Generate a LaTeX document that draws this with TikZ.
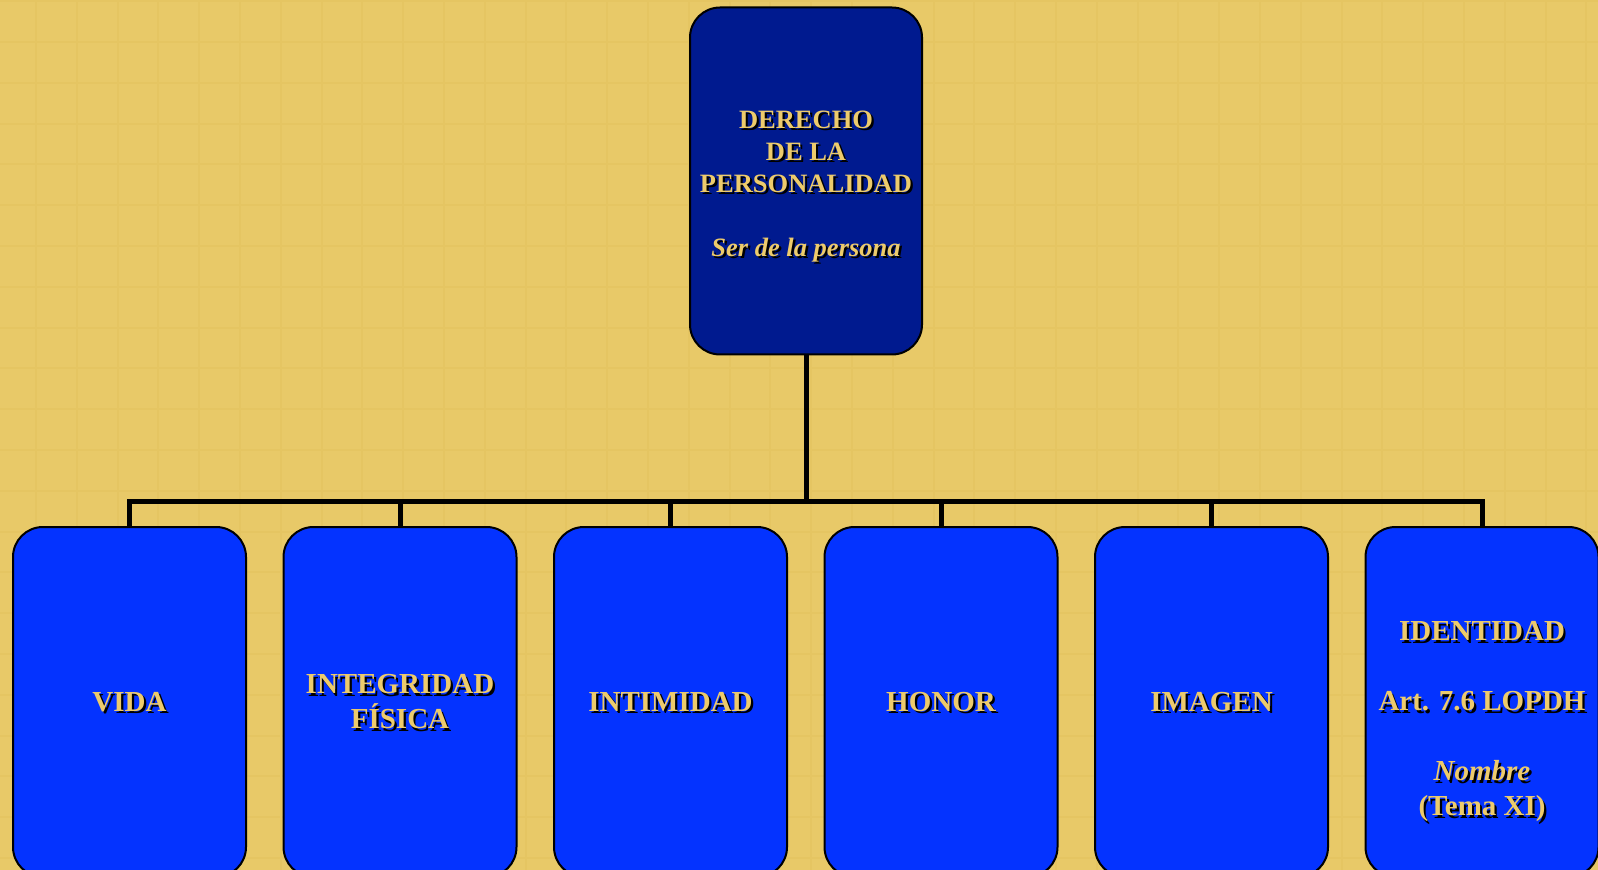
\documentclass[tikz,border=0pt]{standalone}
\usepackage{fontspec}
\setmainfont{Liberation Serif}
\usepackage{xcolor}
\usepackage{tikz}

\definecolor{sand}{HTML}{E8C968}
\definecolor{sandgrid}{HTML}{E5C562}
\definecolor{navy}{HTML}{001A8F}
\definecolor{royal}{HTML}{0433FF}
\definecolor{goldtext}{HTML}{EDCB6C}

\newcommand{\topfont}{\fontsize{13.25}{16}\selectfont\bfseries}
\newcommand{\cardfont}{\fontsize{14.5}{17.5}\selectfont\bfseries}
\newcommand{\roottext}{\mbox{}\\[-2pt]DERECHO\\DE LA\\PERSONALIDAD\\[16pt]\textit{Ser de la persona}}
\newcommand{\identtext}{\mbox{}\\[12pt]IDENTIDAD\\[17.5pt]Art. 7.6 LOPDH\\[17.5pt]\textit{Nombre}\\(Tema XI)}
\newcommand{\card}[3]{\node[cardbox, shadowed={\cardfont}{#3}] (#1) at (#2,702) {#3};}

\tikzset{
	box/.style={draw=black, line width=1pt, rounded corners=15pt, inner sep=0pt, text=goldtext, align=center},
	rootbox/.style={box, fill=navy, minimum width=116pt, minimum height=173.5pt, font=\topfont},
	cardbox/.style={box, fill=royal, minimum width=116.5pt, minimum height=175pt, font=\cardfont},
	shadowed/.style 2 args={path picture={\node[text=black, align=center, font=#1] at ([shift={(1.1pt,-1.1pt)}]path picture bounding box.center) {#2};}},
	link/.style={line width=2.5pt, black},
}

\begin{document}
\begin{tikzpicture}[x=0.5pt, y=-0.5pt]
	\useasboundingbox (0,0) rectangle (1598,870);
	\fill[sand] (0,0) rectangle (1598,870);
	\begin{scope}[shift={(36,42)}]
		\draw[sandgrid, line width=1pt, step=20.4pt] (-36,-42) grid (1562,828);
	\end{scope}

	\node[rootbox, shadowed={\topfont}{\roottext}] (root) at (806,181) {\roottext};

	\card{vida}{129.5}{VIDA}
	\card{integridad}{400}{INTEGRIDAD\\FÍSICA}
	\card{intimidad}{670.5}{INTIMIDAD}
	\card{honor}{941}{HONOR}
	\card{imagen}{1211.5}{IMAGEN}
	\card{identidad}{1482}{\identtext}

	\coordinate (bus) at (806,502);
	\draw[link] (root.south) -- (bus);
	\foreach \c in {vida,integridad,intimidad,honor,imagen,identidad}
		\draw[link] (bus) -| (\c.north);
\end{tikzpicture}
\end{document}
